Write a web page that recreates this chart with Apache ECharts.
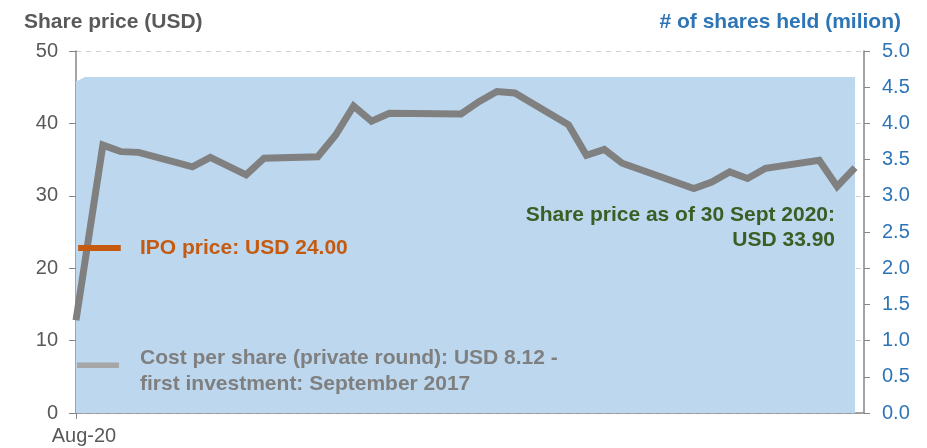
<!DOCTYPE html>
<html>
<head>
<meta charset="utf-8">
<script src="https://cdn.jsdelivr.net/npm/echarts@6/dist/echarts.min.js"></script>
<style>
  html, body { margin: 0; padding: 0; background: #fff; }
  #chart { width: 927px; height: 448px; }
</style>
</head>
<body>
<div id="chart"></div>
<script>
  // day index (0 = first full day shown) and share price in USD
  var priceDays = [-0.5, 1, 2, 3, 6, 7, 9, 10, 13, 14, 15, 16, 17, 21, 22, 23, 24, 27, 28, 29, 30, 34, 35, 36, 37, 38, 41, 42, 43];
  var priceValues = [12.8, 37.0, 36.1, 36.0, 34.0, 35.3, 32.9, 35.2, 35.4, 38.4, 42.4, 40.3, 41.4, 41.3, 43.0, 44.4, 44.2, 39.8, 35.6, 36.4, 34.5, 31.0, 31.9, 33.3, 32.4, 33.8, 34.9, 31.3, 33.9];

  // number of shares held (million)
  var sharesDays = [-0.5, 0, 43];
  var sharesValues = [4.58, 4.64, 4.64];

  // reference markers drawn near the left edge
  var ipoDays = [-0.38, 2];
  var ipoValues = [22.8, 22.8];
  var costDays = [-0.44, 1.9];
  var costValues = [6.6, 6.6];

  var xLabels = ['Aug-20'];

  function pairs(xs, ys) {
    return xs.map(function (x, i) { return [x, ys[i]]; });
  }

  var FONT = '"Liberation Sans", Arial, sans-serif';
  var myChart = echarts.init(document.getElementById('chart'));
  var option = {
    animation: false,
    textStyle: { fontFamily: FONT },
    title: [
      {
        text: 'Share price (USD)',
        left: 19, top: 7,
        textStyle: { fontFamily: FONT, fontSize: 21, fontWeight: 'bold', color: '#595959' }
      },
      {
        text: '# of shares held (milion)',
        right: 21, top: 7,
        textStyle: { fontFamily: FONT, fontSize: 21, fontWeight: 'bold', color: '#2e75b6' }
      }
    ],
    grid: { left: 76, right: 63, top: 51, bottom: 35, containLabel: false },
    xAxis: {
      type: 'value',
      min: -0.5,
      max: 43.5,
      interval: 44,
      axisLine: { show: true, onZero: false, lineStyle: { color: '#868686', width: 1.5 } },
      axisTick: { show: true, length: 6, lineStyle: { color: '#868686' } },
      splitLine: { show: false },
      axisLabel: {
        showMaxLabel: false,
        margin: 13,
        padding: [0, 0, 0, 16],
        fontFamily: FONT, fontSize: 20, color: '#595959',
        formatter: function (v) { return v === -0.5 ? xLabels[0] : ''; }
      }
    },
    yAxis: [
      {
        type: 'value',
        min: 0, max: 50, interval: 10,
        axisLine: { show: true, onZero: false, lineStyle: { color: '#868686', width: 1.5 } },
        axisTick: { show: true, length: 7, lineStyle: { color: '#868686' } },
        splitLine: { show: true, lineStyle: { color: '#d0d0d0', type: [5, 5] } },
        axisLabel: { margin: 18, fontFamily: FONT, fontSize: 20, color: '#595959' }
      },
      {
        type: 'value',
        min: 0, max: 5, interval: 0.5,
        position: 'right',
        axisLine: { show: true, onZero: false, lineStyle: { color: '#868686', width: 1.5 } },
        axisTick: { show: true, length: 6, lineStyle: { color: '#868686' } },
        splitLine: { show: false },
        axisLabel: {
          margin: 18, fontFamily: FONT, fontSize: 20, color: '#2e75b6',
          formatter: function (v) { return v.toFixed(1); }
        }
      }
    ],
    series: [
      {
        name: 'Shares held',
        type: 'line',
        yAxisIndex: 1,
        data: pairs(sharesDays, sharesValues),
        symbol: 'none',
        lineStyle: { width: 0 },
        areaStyle: { color: '#bdd7ee', opacity: 1 },
        z: 1
      },
      {
        name: 'Cost per share',
        type: 'line',
        data: pairs(costDays, costValues),
        symbol: 'none',
        lineStyle: { color: '#a6a6a6', width: 5.5 },
        z: 2
      },
      {
        name: 'Share price',
        type: 'line',
        data: pairs(priceDays, priceValues),
        symbol: 'none',
        lineStyle: { color: '#808080', width: 7, join: 'miter' },
        z: 3
      },
      {
        name: 'IPO price',
        type: 'line',
        data: pairs(ipoDays, ipoValues),
        symbol: 'none',
        lineStyle: { color: '#c55a11', width: 6 },
        z: 4
      }
    ],
    graphic: [
      {
        type: 'text', x: 140, y: 238, z: 10,
        style: { text: 'IPO price: USD 24.00', fill: '#c55a11', font: 'bold 21px ' + FONT }
      },
      {
        type: 'text', x: 140, y: 345, z: 10,
        style: {
          text: 'Cost per share (private round): USD 8.12 -\nfirst investment: September 2017',
          fill: '#7f7f7f', font: 'bold 21px ' + FONT, lineHeight: 26
        }
      },
      {
        type: 'text', x: 835, y: 203, z: 10,
        style: {
          text: 'Share price as of 30 Sept 2020:\nUSD 33.90',
          fill: '#3b5e25', font: 'bold 21px ' + FONT, lineHeight: 25, align: 'right'
        }
      }
    ]
  };
  myChart.setOption(option);
</script>
</body>
</html>
